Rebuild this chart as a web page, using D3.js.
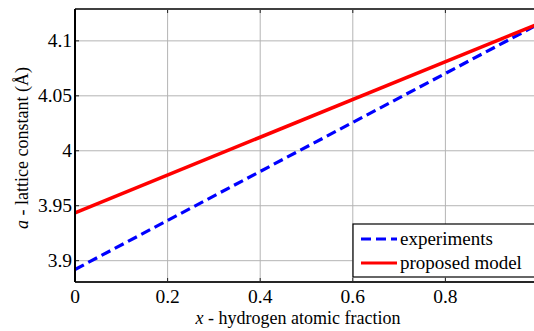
<!DOCTYPE html>
<html>
<head>
<meta charset="utf-8">
<script src="https://cdn.jsdelivr.net/npm/d3@7"></script>
</head>
<body style="margin:0; background:#fff">
<div id="container"></div>
<script>
// data (straight lines, end points only)
var fraction = [0, 1];
var experiments = [3.892, 4.115];
var proposedModel = [3.9436, 4.1154];
var xTicks = [0, 0.2, 0.4, 0.6, 0.8];
var yTicks = [3.9, 3.95, 4, 4.05, 4.1];
var seriesNames = ["experiments", "proposed model"];

var FONT = "'Liberation Serif'";

var W = 534, H = 331;
var margin = { top: 9, right: -4, bottom: 49, left: 75 };
var width = W - margin.left - margin.right,
    height = H - margin.top - margin.bottom;

var svg = d3.select("#container").append("svg")
    .attr("width", W)
    .attr("height", H);

var g = svg.append("g")
    .attr("transform", "translate(" + margin.left + "," + margin.top + ")");

var x = d3.scaleLinear().domain([0, 1]).range([0, width]);
var y = d3.scaleLinear().domain([3.8806, 4.129]).range([height, 0]);

// grid
g.selectAll(".vgrid").data(xTicks.slice(1)).enter().append("line")
    .attr("x1", d => x(d)).attr("x2", d => x(d))
    .attr("y1", 0).attr("y2", height)
    .attr("stroke", "#b4b4b4").attr("stroke-width", 1);
g.selectAll(".hgrid").data(yTicks).enter().append("line")
    .attr("x1", 0).attr("x2", width)
    .attr("y1", d => y(d)).attr("y2", d => y(d))
    .attr("stroke", "#b4b4b4").attr("stroke-width", 1);

// inner ticks (matlab style)
g.selectAll(".tb").data(xTicks.slice(1)).enter().append("line")
    .attr("x1", d => x(d)).attr("x2", d => x(d))
    .attr("y1", height).attr("y2", height - 4)
    .attr("stroke", "#222");
g.selectAll(".tt").data(xTicks.slice(1)).enter().append("line")
    .attr("x1", d => x(d)).attr("x2", d => x(d))
    .attr("y1", 0).attr("y2", 4)
    .attr("stroke", "#222");
g.selectAll(".tl").data(yTicks).enter().append("line")
    .attr("x1", 0).attr("x2", 4)
    .attr("y1", d => y(d)).attr("y2", d => y(d))
    .attr("stroke", "#222");
g.selectAll(".tr").data(yTicks).enter().append("line")
    .attr("x1", width).attr("x2", width - 4)
    .attr("y1", d => y(d)).attr("y2", d => y(d))
    .attr("stroke", "#222");

// lines
var line = d3.line()
    .x(d => x(d[0]))
    .y(d => y(d[1]));

g.append("path")
    .datum(d3.zip(fraction, experiments))
    .attr("d", line)
    .attr("fill", "none")
    .attr("stroke", "#0000ff")
    .attr("stroke-width", 3.2)
    .attr("stroke-dasharray", "10,5");

g.append("path")
    .datum(d3.zip(fraction, proposedModel))
    .attr("d", line)
    .attr("fill", "none")
    .attr("stroke", "#ff0000")
    .attr("stroke-width", 3.5);

// frame
g.append("line").attr("x1", 0).attr("x2", width).attr("y1", 0).attr("y2", 0)
    .attr("stroke", "#404040").attr("stroke-width", 2);
g.append("line").attr("x1", 0).attr("x2", width).attr("y1", height).attr("y2", height)
    .attr("stroke", "#262626").attr("stroke-width", 2);
g.append("line").attr("x1", 0).attr("x2", 0).attr("y1", 0).attr("y2", height)
    .attr("stroke", "#000").attr("stroke-width", 2);

// tick labels
g.selectAll(".xl").data(xTicks).enter().append("text")
    .attr("x", d => x(d)).attr("y", height + 21)
    .attr("text-anchor", "middle")
    .style("font-family", FONT)
    .style("font-size", "19.5px")
    .text(d => d === 0 ? "0" : d3.format(".1f")(d));

g.selectAll(".yl").data(yTicks).enter().append("text")
    .attr("x", -3).attr("y", d => y(d) + 6)
    .attr("text-anchor", "end")
    .style("font-family", FONT)
    .style("font-size", "19.5px")
    .text(d => String(d));

// axis titles
var xt = svg.append("text")
    .attr("x", 298).attr("y", 324)
    .attr("text-anchor", "middle")
    .style("font-family", FONT)
    .style("font-size", "18px");
xt.append("tspan").style("font-style", "italic").text("x");
xt.append("tspan").text(" - hydrogen atomic fraction");

var yt = svg.append("text")
    .attr("transform", "translate(28,148) rotate(-90)")
    .attr("text-anchor", "middle")
    .style("font-family", FONT)
    .style("font-size", "18px");
yt.append("tspan").style("font-style", "italic").text("a");
yt.append("tspan").text(" - lattice constant (Å)");

// legend
var lg = svg.append("g").attr("transform", "translate(353,224)");
lg.append("rect")
    .attr("width", 182).attr("height", 53)
    .attr("fill", "#fff").attr("stroke", "#000").attr("stroke-width", 1.2);

var legendColors = ["#0000ff", "#ff0000"];
var legendDash = ["10,5", null];
seriesNames.forEach(function (name, i)
{
    var yy = 15 + i * 24;
    lg.append("line")
        .attr("x1", 8).attr("x2", 44)
        .attr("y1", yy).attr("y2", yy)
        .attr("stroke", legendColors[i])
        .attr("stroke-width", 3.2)
        .attr("stroke-dasharray", legendDash[i]);
    lg.append("text")
        .attr("x", 47).attr("y", yy + 6)
        .style("font-family", FONT)
        .style("font-size", "19px")
        .text(name);
});
</script>
</body>
</html>
